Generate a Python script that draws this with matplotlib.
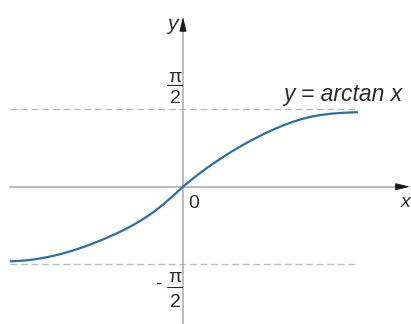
import matplotlib
matplotlib.use('Agg')
import matplotlib.pyplot as plt
import numpy as np

plt.rcParams['font.family'] = ['Liberation Sans', 'DejaVu Sans']
plt.rcParams['lines.scale_dashes'] = False

# points along the curve (x left to right)
curve_x = [-3.51, -3.4, -3.2, -3.0, -2.8, -2.6, -2.4, -2.2, -2.0, -1.8,
           -1.6, -1.4, -1.2, -1.0, -0.8, -0.6, -0.4, -0.2, 0.0,
           0.2, 0.4, 0.6, 0.8, 1.0, 1.2, 1.4, 1.6, 1.8, 2.0,
           2.2, 2.4, 2.6, 2.8, 3.0, 3.2, 3.4, 3.55]
curve_y = [-1.513, -1.510, -1.496, -1.472, -1.438, -1.396, -1.344, -1.284,
           -1.218, -1.142, -1.060, -0.972, -0.878, -0.772, -0.652, -0.516,
           -0.360, -0.184, 0.0,
           0.164, 0.318, 0.460, 0.594, 0.720, 0.838, 0.948, 1.050, 1.144,
           1.230, 1.306, 1.370, 1.420, 1.456, 1.480, 1.496, 1.506, 1.511]

asymptotes = [np.pi / 2, -np.pi / 2]
x_start, x_dash_end, x_arrow = -3.509, 3.489, 4.604
y_arrow, y_bottom = 3.442, -2.80

axis_col = '#a9a9a9'
dash_col = '#bdbdbd'
text_col = '#2b2b2b'
curve_col = '#2b6ea8'

fig = plt.figure(figsize=(4.11, 3.24), dpi=100)
ax = fig.add_axes([0, 0, 1, 1])
ax.set_xlim(-3.712, 4.625)
ax.set_ylim(-2.785, 3.787)
ax.axis('off')

# asymptotes
for a in asymptotes:
    ln, = ax.plot([x_start, x_dash_end], [a, a], color=dash_col, lw=1.0)
    ln.set_dashes((5, 2.6))

# coordinate axes
ax.plot([x_start, x_arrow - 0.1], [0, 0], color=axis_col, lw=1.1)
ax.plot([0, 0], [y_bottom, y_arrow - 0.1], color=axis_col, lw=1.1)
head = dict(arrowstyle='-|>,head_length=0.9,head_width=0.22',
            color='#1a1a1a', lw=0.6, shrinkA=0, shrinkB=0)
ax.annotate('', xy=(x_arrow, 0), xytext=(x_arrow - 0.3, 0), arrowprops=head)
ax.annotate('', xy=(0, y_arrow), xytext=(0, y_arrow - 0.3), arrowprops=head)

# the curve
ax.plot(curve_x, curve_y, color=curve_col, lw=1.6, solid_capstyle='butt')

# labels
fs = 14
ax.text(-0.10, 3.18, 'y', style='italic', fontsize=fs + 1, color=text_col,
        ha='right', va='baseline')
ax.text(4.422, -0.416, 'x', style='italic', fontsize=fs, color=text_col,
        ha='left', va='baseline')
ax.text(0.223, -0.432, '0', fontsize=fs, color=text_col, ha='center',
        va='baseline')
ax.text(2.028, 1.738, 'y = arctan x', style='italic', fontsize=16.5,
        color=text_col, ha='left', va='baseline')

# fractions pi/2 and -pi/2
for sign, yp, ybar, y2 in [(1, 2.124, 2.063, 1.698),
                           (-1, -1.935, -2.037, -2.442)]:
    ax.text(-0.162, yp, 'π', fontsize=fs, color=text_col, ha='center',
            va='baseline')
    ax.plot([-0.325, -0.02], [ybar, ybar], color=text_col, lw=0.8)
    ax.text(-0.162, y2, '2', fontsize=fs, color=text_col, ha='center',
            va='baseline')
    if sign < 0:
        ax.text(-0.507, -1.99, '-', fontsize=fs, color=text_col,
                ha='center', va='center')

fig.savefig('out.png', dpi=100)
